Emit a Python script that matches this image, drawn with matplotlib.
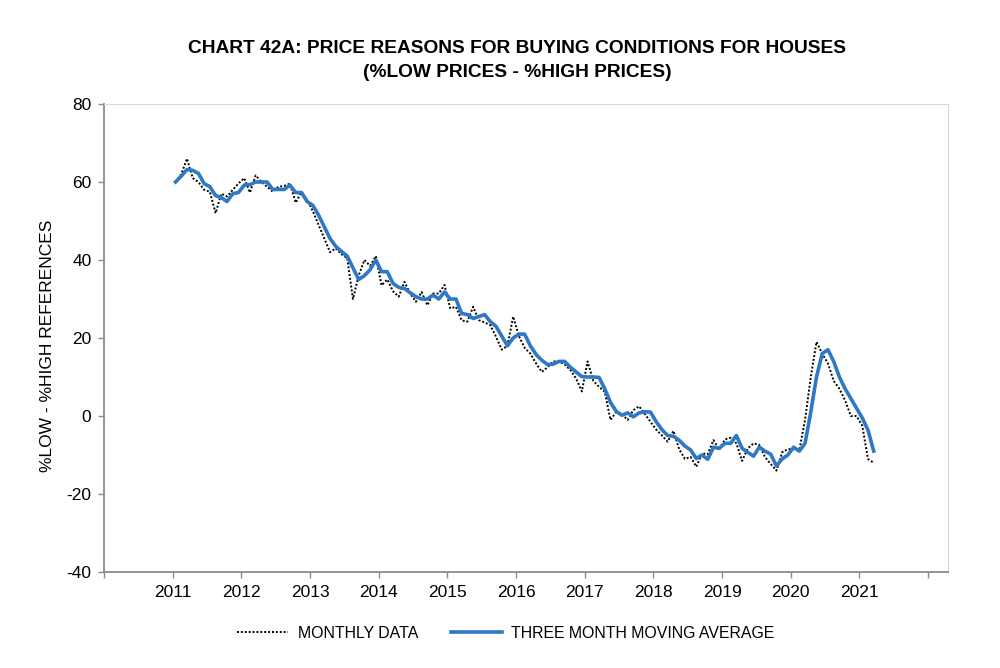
import numpy as np
import matplotlib
matplotlib.use("Agg")
import matplotlib.pyplot as plt

plt.rcParams['font.family'] = ['Liberation Sans', 'DejaVu Sans']
plt.rcParams['axes.unicode_minus'] = False

# monthly values, Jan 2011 .. Mar 2021
monthly = [
    60, 62, 66, 61, 60, 58, 57.5, 52, 57, 56.3, 58, 59.6,            # 2011
    61, 57.3, 61.7, 60, 58.8, 57.5, 58.8, 59, 59.6, 54.7, 57.5, 55.4,  # 2012
    52.5, 49, 45.5, 42, 43, 41.5, 40.5, 30, 36, 40, 38.5, 41,        # 2013
    33.5, 35, 32, 30.6, 34.4, 31.4, 29.3, 31.8, 28.4, 31.4, 31.4, 33.6,  # 2014
    27.6, 28, 24.5, 24.2, 28, 24.6, 24, 23.3, 20.3, 17, 18, 25.5,    # 2015
    20.5, 17.5, 16, 13.5, 11.3, 12.5, 14, 14, 13.2, 11.8, 9.6, 6.3,  # 2016
    14, 9, 7.5, 6.2, -1, 1, 0.5, -1, 1.5, 2.5, 0.5, -1.5,            # 2017
    -3.5, -5, -6.6, -3.8, -8.5, -11, -10.5, -13, -9.6, -9.8, -6.2, -8.6,  # 2018
    -6, -5.6, -7, -11.5, -8.3, -7, -7.4, -10.5, -12.3, -14, -9.3, -8.5,   # 2019
    -8.5, -8.7, -1, 10, 19, 16, 13.5, 9, 7, 4, 0, 0,                 # 2020
    -2.5, -11, -12,                                                  # 2021
]

moving_avg = [
    60, 61.5, 63.2, 63, 62.2, 59.6, 58.8, 56.5, 56, 55, 57, 57.3,
    59.2, 59.3, 60, 60, 60, 58.1, 58.1, 58.1, 59.2, 57.3, 57.3, 55,
    54, 51.5, 48.5, 45.5, 43.5, 42.2, 41, 38, 35, 36, 37.5, 40,
    37, 37, 34, 33, 32.7, 31.6, 30.6, 30, 30, 31, 30, 31.8,
    30, 30, 26.3, 26, 25, 25.5, 26, 24.2, 23, 20.5, 18, 20,
    21, 21, 18, 15.8, 14.3, 13.2, 13.3, 14, 14, 12.5, 11.3, 10.1,
    10, 10, 9.9, 7, 3.5, 1.2, 0.2, 0.8, -0.2, 0.8, 1.1, 1,
    -1.5, -3.5, -5, -5.2, -6.2, -7.7, -8.7, -10.9, -10, -11.1, -8, -8.3,
    -7, -7, -5, -8.3, -9.3, -10.3, -8, -9, -9.8, -12.8, -11, -10,
    -8, -9, -7, 1, 10, 16, 17, 14, 10, 7, 4.5, 2,
    -0.5, -3.6, -9,
]

start_year = 2011
tick_years = list(range(2010, 2023))
tick_labels = [str(y) if 2011 <= y <= 2021 else "" for y in tick_years]

# points sit in the middle of their month
x = start_year + (np.arange(len(monthly)) + 0.5) / 12

fig = plt.figure(figsize=(10, 6.68), dpi=100)
ax = fig.add_axes([0.104, 0.1437, 0.844, 0.7006])

ax.plot(x, monthly, color="black", lw=1.4, ls=(0, (1, 1)), label="MONTHLY DATA")
ax.plot(x, moving_avg, color="#2f78c4", lw=2.6, solid_joinstyle="round",
        label="THREE MONTH MOVING AVERAGE")

ax.set_xlim(2010, 2022.29)
ax.set_ylim(-40, 80)
ax.set_yticks(range(-40, 81, 20))
ax.set_xticks(tick_years)
ax.set_xticklabels(tick_labels)
ax.tick_params(labelsize=12.5, length=4, width=1, color="#8a8a8a", pad=5)

for s in ["left", "bottom"]:
    ax.spines[s].set_color("#8a8a8a")
    ax.spines[s].set_linewidth(1.3)
for s in ["top", "right"]:
    ax.spines[s].set_color("#d9d9d9")
    ax.spines[s].set_linewidth(0.8)

ax.set_ylabel("%LOW - %HIGH REFERENCES", fontsize=12.5)
ax.yaxis.set_label_coords(-0.058, 0.483)

fig.text(0.517, 0.928, "CHART 42A: PRICE REASONS FOR BUYING CONDITIONS FOR HOUSES",
         ha="center", va="center", fontsize=13.8, fontweight="bold")
fig.text(0.517, 0.891, "(%LOW PRICES - %HIGH PRICES)",
         ha="center", va="center", fontsize=13.8, fontweight="bold")

fig.legend(loc="center", bbox_to_anchor=(0.506, 0.052), ncol=2, frameon=False,
           fontsize=11.4, handlelength=3.2, handletextpad=0.6, columnspacing=2.1)

fig.savefig("out.png", dpi=100)
